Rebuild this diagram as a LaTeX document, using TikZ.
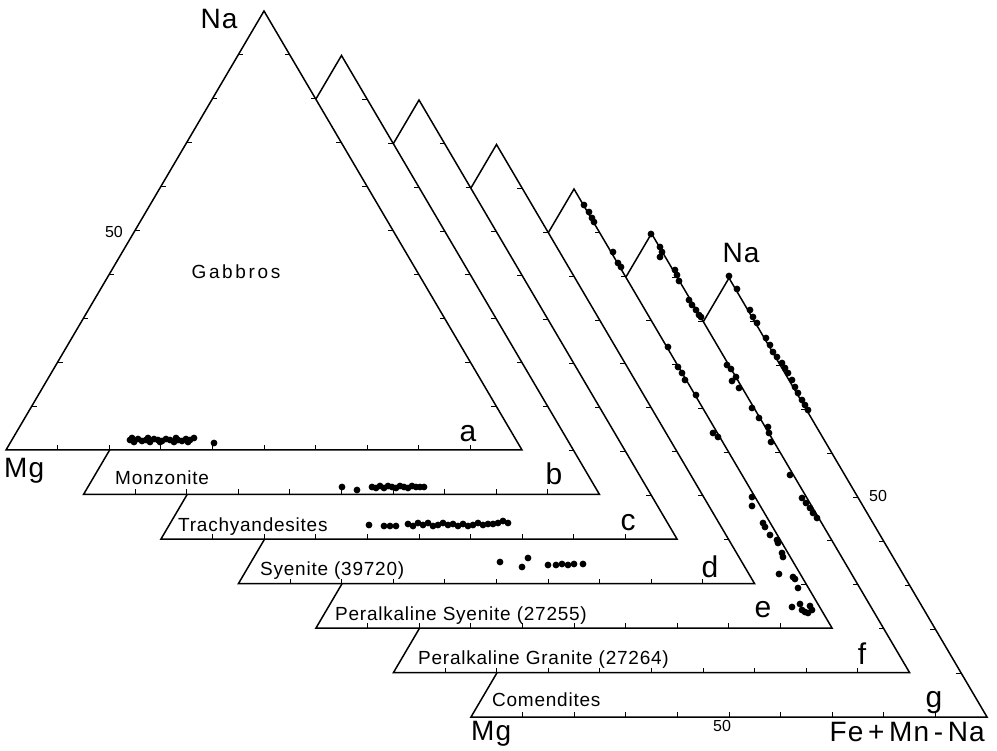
\documentclass[tikz,border=0pt]{standalone}
\usepackage{fontspec}
\setmainfont{Liberation Sans}
\newfontfamily\lettering[LetterSpace=4]{Liberation Sans}
\newfontfamily\spaziato[LetterSpace=14]{Liberation Sans}
\usepackage{tikz}
\usetikzlibrary{calc}
\tikzstyle{triangolo} = [draw=black, fill=white, line width=1.5pt, line join=miter]
\tikzstyle{tacca} = [line width=1pt]
\tikzstyle{roccia} = [font=\lettering\fontsize{19}{21}\selectfont, inner sep=0pt, anchor=base west]
\tikzstyle{lettera} = [font=\fontsize{30}{32}\selectfont, inner sep=0pt, anchor=base]
\tikzstyle{vertice} = [font=\lettering\fontsize{28}{30}\selectfont, inner sep=0pt, anchor=base]
\tikzstyle{scala} = [font=\fontsize{16}{18}\selectfont, inner sep=0pt]

\begin{document}
\begin{tikzpicture}[x=1pt,y=-1pt]
\useasboundingbox (0,0) rectangle (997,751);
% triangoli, dal fondo verso il primo
\foreach \n/\k in {g/6,f/5,e/4,d/3,c/2,b/1,a/0}{
	\coordinate (sin\n) at ({6+77.5*\k},{450+44.5*\k});
	\coordinate (des\n) at ({522+77.5*\k},{450+44.5*\k});
	\coordinate (api\n) at ({264+77.5*\k},{11+44.5*\k});
	\draw[triangolo] (sin\n) -- (des\n) -- (api\n) -- cycle;
	\foreach \j in {1,...,9}{
		\draw[tacca] ($(sin\n)!\j*0.1!(des\n)$) -- ++(0,-5);
		\draw[tacca] ($(des\n)!\j*0.1!(api\n)$) -- ++(-5,0);
	}
}
\foreach \j in {1,...,9}
	\draw[tacca] ($(sina)!\j*0.1!(apia)$) -- ++(5,0);

% punti
\foreach \x/\y in {130/440,134/442,138/439,142/441,146/440,150/442,154/439,158/440,162/441,166/439,170/440,
	174/442,178/440,182/441,186/439,190/440,194/438,132/438,148/438,160/442,176/438,188/442,214/443}
	\fill (\x,\y) circle (3.4pt);
\foreach \x/\y in {342/487,357/490,372/487,376/488,380/486,384/488,388/486,392/487,396/488,400/486,
	404/487,408/488,412/486,416/487,420/487,424/487}
	\fill (\x,\y) circle (3.4pt);
\foreach \x/\y in {369/525,384/526,390/526,396/526,408/524,413/526,418/523,423/525,428/523,433/526,438/525,
	443/523,448/525,453/524,458/526,463/524,468/526,473/525,478/523,483/525,488/524,493/524,498/523,
	503/521,508/523}
	\fill (\x,\y) circle (3.4pt);
\foreach \x/\y in {500/562,522/567,528/558,548/565,556/565,562/564,568/565,574/564,583/564}
	\fill (\x,\y) circle (3.4pt);
\foreach \x/\y in {584/205,589/212,592/218,594/222,613/252,618/263,621/267,668/347,678/367,682/373,
	685/380,696/395,713/433,718/437,752/497,752/506,763/523,765/527,770/535,777/540,778/543,782/553,
	783/557,779/574,793/577,795/579,798/588,792/607,800/604,802/610,805/612,810/606,812/610,808/613}
	\fill (\x,\y) circle (3.4pt);
\foreach \x/\y in {651/234,660/247,662/252,660/257,675/270,677/275,679/281,689/300,692/305,696/310,
	699/315,701/317,727/365,731/369,736/377,732/381,739/388,752/408,759/418,768/427,769/433,771/442,
	790/475,802/498,806/503,810/508,813/513,817/518}
	\fill (\x,\y) circle (3.4pt);
\foreach \x/\y in {729/276,737/289,750/310,753/317,757/323,766/338,770/345,773/352,777/357,782/363,
	785/368,788/373,792/380,795/387,798/393,802/400,805/405,808/410}
	\fill (\x,\y) circle (3.4pt);

% etichette
\node[vertice] (naa) at (219,29) {Na};
\node[vertice, anchor=base west] (mga) at (4,478) {Mg};
\node[scala] (cinqa) at (114,232) {50};
\node[font=\spaziato\fontsize{19}{21}\selectfont, inner sep=0pt] (gabbri) at (236,272) {Gabbros};
\node[lettera] (la) at (468,442) {a};
\node[lettera] (lb) at (554,485) {b};
\node[lettera] (lc) at (628,530) {c};
\node[lettera] (ld) at (710,577) {d};
\node[lettera] (le) at (763,617) {e};
\node[lettera] (lf) at (862,664) {f};
\node[lettera] (lg) at (934,707) {g};
\node[roccia] (monz) at (115,485) {Monzonite};
\node[roccia] (trach) at (178,531) {Trachyandesites};
\node[roccia] (sien) at (260,575) {Syenite (39720)};
\node[roccia] (psien) at (335,620) {Peralkaline Syenite (27255)};
\node[roccia] (pgran) at (418,664) {Peralkaline Granite (27264)};
\node[roccia] (comen) at (492,706) {Comendites};
\node[vertice] (nag) at (741,263) {Na};
\node[scala] (cinqg) at (878,496) {50};
\node[vertice, anchor=base west] (mgg) at (471,740) {Mg};
\node[scala] (cinqb) at (722,726) {50};
\node[vertice, anchor=base east] (fe) at (985,741) {Fe{\,}+{\,}Mn{\,}-{\,}Na};
\end{tikzpicture}
\end{document}
